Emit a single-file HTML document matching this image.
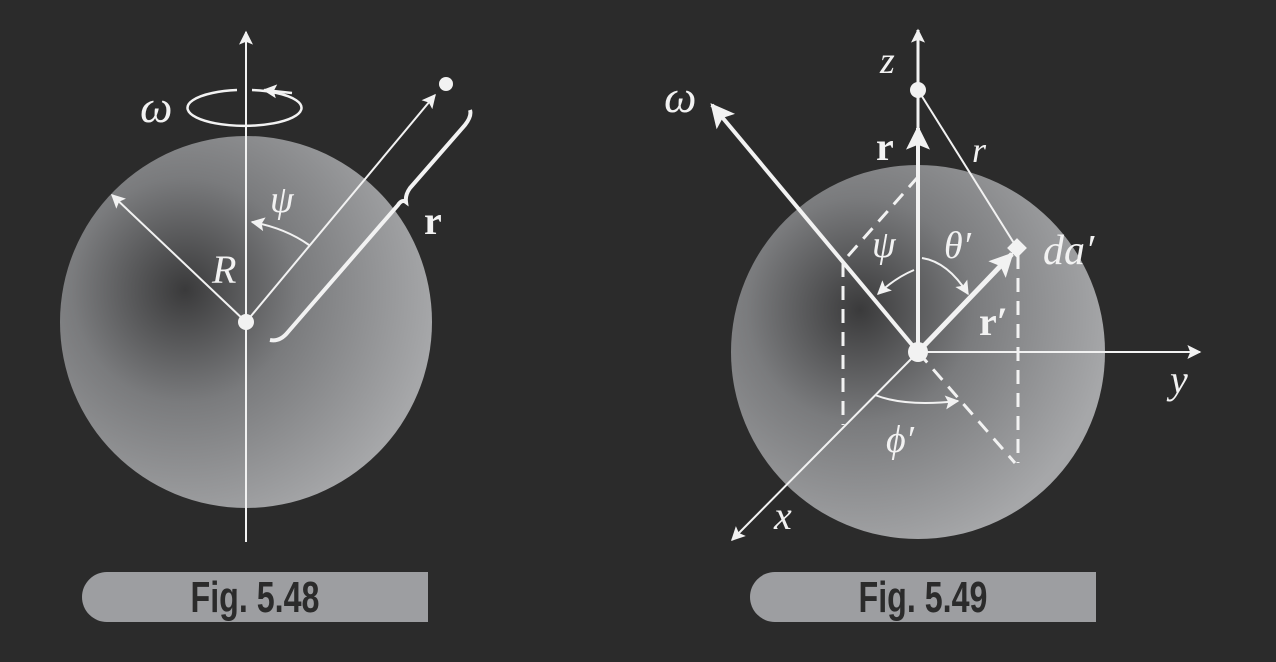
<!DOCTYPE html>
<html><head><meta charset="utf-8"><style>
html,body{margin:0;padding:0;background:#2b2b2b;}
svg{display:block;}
.lab{font-family:"Liberation Serif",serif;fill:#f2f2f2;}
.fig{font-family:"Liberation Sans Narrow","Liberation Sans",sans-serif;font-weight:bold;fill:#2b2b2b;font-size:44px;}
</style></head><body>
<svg width="1276" height="662" viewBox="0 0 1276 662">
<defs>
<radialGradient id="g1" cx="185" cy="290" r="250" gradientUnits="userSpaceOnUse">
<stop offset="0" stop-color="#3a3a3b"/><stop offset="0.45" stop-color="#7a7b7d"/><stop offset="1" stop-color="#a6a7a9"/></radialGradient>
<radialGradient id="g2" cx="860" cy="310" r="250" gradientUnits="userSpaceOnUse">
<stop offset="0" stop-color="#3a3a3b"/><stop offset="0.45" stop-color="#7a7b7d"/><stop offset="1" stop-color="#a6a7a9"/></radialGradient>
<marker id="a2" viewBox="0 0 10 10" refX="9" refY="5" markerWidth="26" markerHeight="14" orient="auto" markerUnits="userSpaceOnUse"><path d="M0,0L10,5L0,10L2,5z" fill="#f2f2f2"/></marker>
<marker id="a3" viewBox="0 0 10 10" refX="9" refY="5" markerWidth="36" markerHeight="24" orient="auto" markerUnits="userSpaceOnUse"><path d="M0,0L10,5L0,10L2,5z" fill="#f2f2f2"/></marker>
</defs>
<g stroke="#f2f2f2" fill="none">
<circle cx="246" cy="322" r="186" fill="url(#g1)" stroke="none"/>
<line x1="246" y1="542" x2="246" y2="32" stroke-width="2" marker-end="url(#a2)"/>
<path d="M237,90 A57,18 0 1 0 252,90" stroke-width="2.5"/>
<path d="M292,93 L264,90" stroke-width="2.5" marker-end="url(#a2)"/>
<line x1="246" y1="322" x2="112" y2="195" stroke-width="2" marker-end="url(#a2)"/>
<line x1="246" y1="322" x2="435" y2="95" stroke-width="2" marker-end="url(#a2)"/>
<circle cx="446" cy="84" r="7" fill="#f2f2f2" stroke="none"/>
<path d="M309,245 Q285,228 252,222" stroke-width="2" marker-end="url(#a2)"/>
<path d="M270,340 Q280,342 288,332 L398,205 Q402,199 406,202 Q405,195 410,188 L465,125 Q472,116 470,110" stroke-width="4"/>
<circle cx="246" cy="322" r="8" fill="#f2f2f2" stroke="none"/>
</g>
<text class="lab" x="140" y="122" font-size="46" font-style="italic">ω</text>
<text class="lab" x="270" y="212" font-size="38" font-style="italic">ψ</text>
<text class="lab" x="212" y="283" font-size="40" font-style="italic">R</text>
<text class="lab" x="424" y="234" font-size="40" font-weight="bold">r</text>

<g stroke="#f2f2f2" fill="none">
<circle cx="918" cy="352" r="187" fill="url(#g2)" stroke="none"/>
<g stroke-width="3" stroke-dasharray="14,9">
<line x1="843" y1="263" x2="843" y2="425"/>
<line x1="1018" y1="255" x2="1018" y2="463"/>
<line x1="918" y1="352" x2="1015" y2="463"/>
<line x1="848" y1="256" x2="917" y2="178"/>
</g>
<line x1="918" y1="352" x2="918" y2="30" stroke-width="3" marker-end="url(#a2)"/>
<line x1="918" y1="352" x2="1200" y2="352" stroke-width="2" marker-end="url(#a2)"/>
<line x1="918" y1="352" x2="732" y2="540" stroke-width="2" marker-end="url(#a2)"/>
<line x1="918" y1="352" x2="712" y2="105" stroke-width="4" marker-end="url(#a3)"/>
<line x1="918" y1="352" x2="918" y2="128" stroke-width="4" marker-end="url(#a3)"/>
<line x1="918" y1="352" x2="1012" y2="254" stroke-width="5" marker-end="url(#a3)"/>
<line x1="918" y1="90" x2="1017" y2="248" stroke-width="2"/>
<path d="M914,270 Q895,278 878,294" stroke-width="2" marker-end="url(#a2)"/>
<path d="M922,258 Q948,262 968,294" stroke-width="2" marker-end="url(#a2)"/>
<path d="M875,395 Q905,407 958,401" stroke-width="2" marker-end="url(#a2)"/>
<rect x="1010" y="241" width="14" height="14" fill="#f2f2f2" stroke="none" transform="rotate(45 1017 248)"/>
<circle cx="918" cy="90" r="8" fill="#f2f2f2" stroke="none"/>
<circle cx="918" cy="352" r="10" fill="#f2f2f2" stroke="none"/>
</g>
<text class="lab" x="880" y="73" font-size="38" font-style="italic">z</text>
<text class="lab" x="664" y="112" font-size="46" font-style="italic">ω</text>
<text class="lab" x="876" y="160" font-size="40" font-weight="bold">r</text>
<text class="lab" x="972" y="162" font-size="36" font-style="italic">r</text>
<text class="lab" x="872" y="257" font-size="38" font-style="italic">ψ</text>
<text class="lab" x="944" y="258" font-size="38" font-style="italic">θ′</text>
<text class="lab" x="1043" y="264" font-size="42" font-style="italic">da′</text>
<text class="lab" x="979" y="335" font-size="40" font-weight="bold">r′</text>
<text class="lab" x="886" y="452" font-size="38" font-style="italic">ϕ′</text>
<text class="lab" x="1170" y="393" font-size="40" font-style="italic">y</text>
<text class="lab" x="774" y="529" font-size="40" font-style="italic">x</text>

<g>
<path d="M107,572 L428,572 L428,622 L107,622 A25,25 0 0 1 107,572z" fill="#9d9ea1"/>
<text class="fig" x="255" y="612" text-anchor="middle" textLength="129" lengthAdjust="spacingAndGlyphs">Fig. 5.48</text>
</g>
<g>
<path d="M775,572 L1096,572 L1096,622 L775,622 A25,25 0 0 1 775,572z" fill="#9d9ea1"/>
<text class="fig" x="923" y="612" text-anchor="middle" textLength="129" lengthAdjust="spacingAndGlyphs">Fig. 5.49</text>
</g>
</svg>
</body></html>
